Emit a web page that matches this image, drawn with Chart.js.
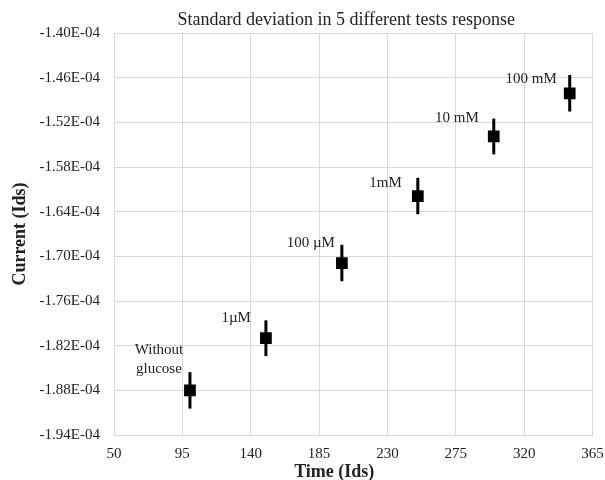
<!DOCTYPE html>
<html>
<head>
<meta charset="utf-8">
<script src="https://cdn.jsdelivr.net/npm/chart.js@4"></script>
<style>
    html, body { margin: 0; padding: 0; background: #fff; }
    #wrap { width: 605px; height: 480px; }
</style>
</head>
<body>
<div id="wrap"><canvas id="myChart"></canvas></div>
<script>
// Data
const timeValues = [100, 150, 200, 250, 300, 350];
const currentValues = [-1.880e-4, -1.810e-4, -1.709e-4, -1.619e-4, -1.539e-4, -1.481e-4];
const stdDevValues = [2.45e-6, 2.4e-6, 2.45e-6, 2.45e-6, 2.4e-6, 2.45e-6];
const pointLabels = [['Without', 'glucose'], '1\u00b5M', '100 \u00b5M', '1mM', '10 mM', '100 mM'];
const xTickValues = [50, 95, 140, 185, 230, 275, 320, 365];
const yTickValues = [-1.94e-4, -1.88e-4, -1.82e-4, -1.76e-4, -1.70e-4, -1.64e-4, -1.58e-4, -1.52e-4, -1.46e-4, -1.40e-4];

const chartTitle = 'Standard deviation in 5 different tests response';
const xAxisTitle = 'Time (Ids)';
const yAxisTitle = 'Current (Ids)';

// where each annotation sits relative to its marker (px)
const labelOffsets = [
    { dx: -31, dy: -40, align: 'center' },
    { dx: -15, dy: -20, align: 'right' },
    { dx: -7, dy: -20, align: 'right' },
    { dx: -16, dy: -13, align: 'right' },
    { dx: -15, dy: -18, align: 'right' },
    { dx: -13, dy: -14, align: 'right' }
];

const serif = '"Liberation Serif", "Times New Roman", serif';
const gridColor = '#d9d9d9';
const textColor = '#222';

function sciLabel(v) {
    const parts = v.toExponential(2).split('e');
    const n = parseInt(parts[1], 10);
    return parts[0] + 'E' + (n < 0 ? '-' : '+') + String(Math.abs(n)).padStart(2, '0');
}

// vertical error bars (standard deviation)
const errorBars = {
    id: 'errorBars',
    beforeDatasetsDraw(chart) {
        const ctx = chart.ctx;
        const xs = chart.scales.x;
        const ys = chart.scales.y;
        ctx.save();
        ctx.strokeStyle = '#000';
        ctx.lineWidth = 3;
        timeValues.forEach((t, i) => {
            const px = xs.getPixelForValue(t);
            ctx.beginPath();
            ctx.moveTo(px, ys.getPixelForValue(currentValues[i] + stdDevValues[i]));
            ctx.lineTo(px, ys.getPixelForValue(currentValues[i] - stdDevValues[i]));
            ctx.stroke();
        });
        ctx.restore();
    }
};

// text annotations next to each point
const pointText = {
    id: 'pointText',
    afterDatasetsDraw(chart) {
        const ctx = chart.ctx;
        const xs = chart.scales.x;
        const ys = chart.scales.y;
        ctx.save();
        ctx.font = '15px ' + serif;
        ctx.fillStyle = textColor;
        ctx.textBaseline = 'middle';
        pointLabels.forEach((lab, i) => {
            const off = labelOffsets[i];
            const px = xs.getPixelForValue(timeValues[i]) + off.dx;
            const py = ys.getPixelForValue(currentValues[i]) + off.dy;
            ctx.textAlign = off.align;
            const lines = Array.isArray(lab) ? lab : [lab];
            lines.forEach((line, j) => ctx.fillText(line, px, py + j * 19));
        });
        ctx.restore();
    }
};

// chart title and x axis title sit a bit left of the plot centre, as in the original
const titles = {
    id: 'titles',
    afterDraw(chart) {
        const ctx = chart.ctx;
        const area = chart.chartArea;
        const mid = (area.left + area.right) / 2;
        ctx.save();
        ctx.fillStyle = textColor;
        ctx.textAlign = 'center';
        ctx.textBaseline = 'middle';
        ctx.font = '18px ' + serif;
        ctx.fillText(chartTitle, mid - 7, area.top - 13);
        ctx.font = 'bold 18px ' + serif;
        ctx.fillText(xAxisTitle, mid - 19, area.bottom + 37);
        ctx.restore();
    }
};

const ctx = document.getElementById('myChart').getContext('2d');
const myChart = new Chart(ctx, {
    type: 'scatter',
    data: {
        datasets: [{
            label: 'Current',
            data: timeValues.map((t, i) => ({ x: t, y: currentValues[i] })),
            pointStyle: 'rect',
            pointRadius: 8.3,
            pointHoverRadius: 8.3,
            backgroundColor: '#000',
            borderColor: '#000',
            borderWidth: 0,
            showLine: false
        }]
    },
    options: {
        responsive: true,
        maintainAspectRatio: false,
        animation: false,
        layout: {
            padding: { left: 8, right: 0, top: 33, bottom: 0 }
        },
        plugins: {
            legend: { display: false },
            tooltip: { enabled: false },
            title: { display: false }
        },
        scales: {
            x: {
                type: 'linear',
                min: 50,
                max: 365,
                afterBuildTicks: axis => { axis.ticks = xTickValues.map(v => ({ value: v })); },
                afterFit: axis => {
                    axis.height = 45;
                    axis.paddingRight = 12.5;
                },
                grid: { color: gridColor, drawTicks: false },
                border: { color: gridColor },
                ticks: {
                    color: textColor,
                    padding: 10,
                    maxRotation: 0,
                    font: { family: serif, size: 15 }
                }
            },
            y: {
                type: 'linear',
                min: -1.94e-4,
                max: -1.40e-4,
                afterBuildTicks: axis => { axis.ticks = yTickValues.map(v => ({ value: v })); },
                afterFit: axis => { axis.width = 106; },
                grid: { color: gridColor, drawTicks: false },
                border: { color: gridColor },
                ticks: {
                    color: textColor,
                    padding: 14,
                    font: { family: serif, size: 15 },
                    callback: v => sciLabel(v)
                },
                title: {
                    display: true,
                    text: yAxisTitle,
                    color: textColor,
                    font: { family: serif, size: 18, weight: 'bold' },
                    padding: { top: 2, bottom: 4 }
                }
            }
        }
    },
    plugins: [errorBars, pointText, titles]
});
</script>
</body>
</html>
